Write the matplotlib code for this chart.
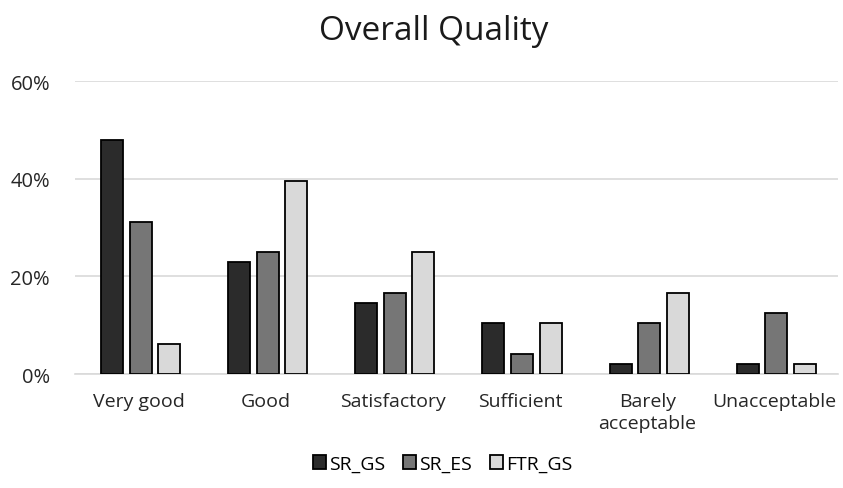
import matplotlib.pyplot as plt
import numpy as np
from matplotlib.ticker import FuncFormatter

plt.rcParams['font.family'] = ['Open Sans', 'DejaVu Sans']

categories = ['Very good', 'Good', 'Satisfactory', 'Sufficient', 'Barely\nacceptable', 'Unacceptable']
sr_gs = [47.9, 22.9, 14.6, 10.4, 2.1, 2.1]
sr_es = [31.25, 25.0, 16.7, 4.2, 10.4, 12.5]
ftr_gs = [6.25, 39.6, 25.0, 10.4, 16.7, 2.1]
series_names = ['SR_GS', 'SR_ES', 'FTR_GS']
colors = ['#2b2b2b', '#767676', '#d9d9d9']

fig = plt.figure(figsize=(8.43, 4.89), dpi=100)
ax = fig.add_axes([0.089, 0.233, 0.905, 0.599])

x = np.arange(len(categories))
w = 0.173
step = 0.225
for i, (vals, name, c) in enumerate(zip([sr_gs, sr_es, ftr_gs], series_names, colors)):
    ax.bar(x + (i - 1) * step + 0.015, vals, width=w, color=c, edgecolor='black',
           linewidth=1.3, label=name, zorder=3)

ax.set_ylim(0, 60)
ax.set_xlim(-0.5, len(categories) - 0.5)
ax.set_yticks([0, 20, 40, 60])
ax.yaxis.set_major_formatter(FuncFormatter(lambda v, p: f'{v:.0f}%'))
ax.grid(axis='y', color='#d9d9d9', linewidth=1.2, zorder=0)
ax.set_xticks(x)
ax.set_xticklabels(categories, fontsize=14, color='#262626', linespacing=1.3)
ax.tick_params(axis='y', labelsize=14.5, labelcolor='#262626', length=0, pad=18)
ax.tick_params(axis='x', length=0, pad=13)
for s in ['top', 'right', 'left']:
    ax.spines[s].set_visible(False)
ax.spines['bottom'].set_color('#d9d9d9')
ax.spines['bottom'].set_linewidth(1.2)

ax.set_title('Overall Quality', fontsize=24, color='#1a1a1a', pad=30, x=0.47)

fig.legend(loc='lower center', bbox_to_anchor=(0.525, -0.005), ncol=3, frameon=False,
           fontsize=14, handlelength=0.7, handleheight=0.7, handletextpad=0.15,
           columnspacing=0.9)

fig.savefig('out.png', dpi=100)
